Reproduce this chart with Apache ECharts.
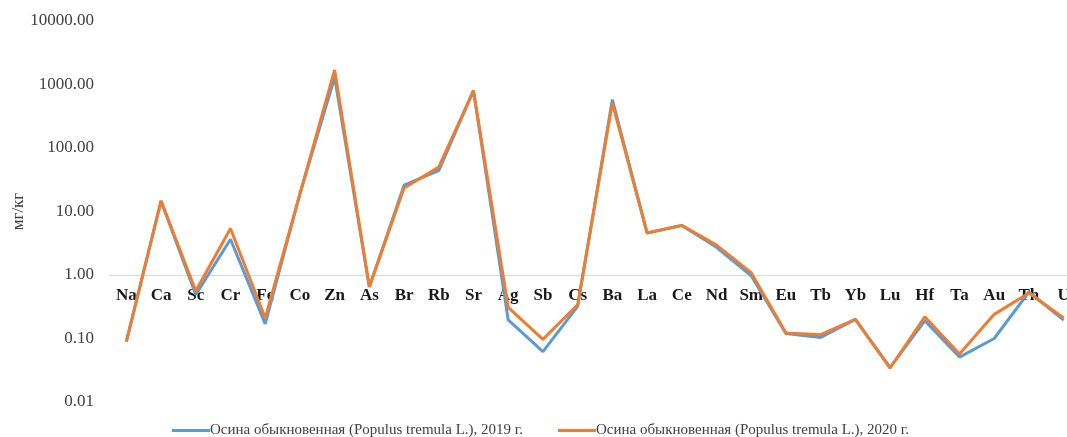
<!DOCTYPE html>
<html>
<head>
<meta charset="utf-8">
<script src="https://cdn.jsdelivr.net/npm/echarts@6/dist/echarts.min.js"></script>
<style>html,body{margin:0;padding:0;background:#fff;overflow:hidden;width:1067px;height:437px;}#c{width:1081px;height:437px;}</style>
</head>
<body>
<div id="c"></div>
<script>
const categories = ['Na','Ca','Sc','Cr','Fe','Co','Zn','As','Br','Rb','Sr','Ag','Sb','Cs','Ba','La','Ce','Nd','Sm','Eu','Tb','Yb','Lu','Hf','Ta','Au','Th','U'];
const values2019 = [0.089,14.5,0.49,3.65,0.17,19,1300,0.65,26,44,800,0.196,0.062,0.32,580,4.6,6.0,2.73,0.97,0.12,0.104,0.20,0.035,0.19,0.051,0.10,0.54,0.195];
const values2020 = [0.089,14.8,0.56,5.4,0.21,19,1690,0.65,23.4,50,800,0.31,0.097,0.34,510,4.6,6.05,2.96,1.09,0.122,0.115,0.20,0.034,0.22,0.057,0.24,0.52,0.21];
const seriesNames = ['Осина обыкновенная (Populus tremula L.), 2019 г.','Осина обыкновенная (Populus tremula L.), 2020 г.'];
const yTicks = [0.01,0.1,1,10,100,1000,10000];

const chart = echarts.init(document.getElementById('c'));
chart.setOption({
  animation: false,
  grid: {left: 109, top: 21, right: 0, bottom: 35, containLabel: false, outerBoundsMode: 'none'},
  legend: {
    bottom: -6, left: 'center', itemWidth: 38, itemHeight: 3, itemGap: 35, icon: 'rect',
    textStyle: {fontFamily: 'Liberation Serif', fontSize: 15, color: '#404040', padding: [0,0,0,-5]},
    data: seriesNames
  },
  xAxis: {
    type: 'category', data: categories, boundaryGap: true,
    offset: -127,
    axisLine: {show: true, lineStyle: {color: '#d9d9d9', width: 1}},
    axisTick: {show: false},
    axisLabel: {interval: 0, margin: 12, fontFamily: 'Liberation Serif', fontWeight: 'bold', fontSize: 17, color: '#1a1a1a'}
  },
  yAxis: {
    type: 'log', logBase: 10, min: yTicks[0], max: yTicks[yTicks.length-1],
    name: 'мг/кг', nameLocation: 'middle', nameGap: 82, nameMoveOverlap: false,
    nameTextStyle: {fontFamily: 'Liberation Serif', fontSize: 17, color: '#404040'},
    axisLine: {show: false}, axisTick: {show: false}, splitLine: {show: false},
    axisLabel: {margin: 15, fontFamily: 'Liberation Serif', fontSize: 17, color: '#404040',
      formatter: v => Number(v).toFixed(2)}
  },
  series: [
    {name: seriesNames[0], type: 'line', data: values2019, showSymbol: false, symbol: 'none',
     lineStyle: {color: '#5B9BD5', width: 3}, itemStyle: {color: '#5B9BD5'}},
    {name: seriesNames[1], type: 'line', data: values2020, showSymbol: false, symbol: 'none',
     lineStyle: {color: '#ED7D31', width: 3}, itemStyle: {color: '#ED7D31'}}
  ]
});
</script>
</body>
</html>
